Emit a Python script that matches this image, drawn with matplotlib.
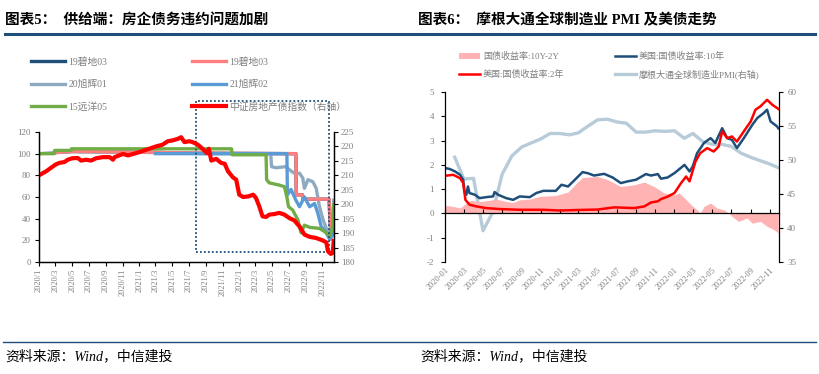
import pandas as pd
import matplotlib
matplotlib.use('Agg')
import matplotlib.pyplot as plt
import matplotlib.dates as mdates
from matplotlib.lines import Line2D
from matplotlib.patches import Rectangle, Patch
from matplotlib.ticker import FuncFormatter, MultipleLocator

plt.rcParams['font.family'] = ['Liberation Serif', 'Noto Sans CJK SC']
plt.rcParams['axes.unicode_minus'] = False

# ---------------- left chart data (图表5) ----------------
green_dates = ['2020-01-01', '2020-02-26', '2020-02-27', '2020-04-27', '2020-04-28', '2021-12-04',
               '2021-12-06', '2022-04-09', '2022-04-11', '2022-04-21', '2022-05-27', '2022-06-15',
               '2022-06-24', '2022-06-30', '2022-07-15', '2022-08-03', '2022-08-15', '2022-08-27',
               '2022-09-15', '2022-10-21', '2022-11-09', '2022-11-27', '2022-12-08', '2022-12-12']
green_vals = [100, 100, 103, 103, 104.5, 104.5, 99, 99, 76, 73, 71, 69.5, 60, 51, 48, 39, 27, 34,
              32, 31, 28, 24, 33, 53]

pink_dates = ['2020-02-27', '2020-05-01', '2021-01-01', '2021-07-01', '2022-07-27', '2022-07-28',
              '2022-08-20', '2022-08-22', '2022-11-25', '2022-11-28', '2022-12-03', '2022-12-12']
pink_vals = [101, 102, 101.5, 100.5, 100, 62, 62, 58, 58, 40, 22, 35]

gray_dates = ['2020-01-01', '2020-05-01', '2020-10-01', '2021-03-01', '2021-09-01', '2022-04-26',
              '2022-04-29', '2022-05-15', '2022-06-20', '2022-07-09', '2022-07-27', '2022-08-09',
              '2022-08-21', '2022-08-27', '2022-09-09', '2022-09-27', '2022-10-09', '2022-10-21',
              '2022-11-03', '2022-11-21', '2022-12-03', '2022-12-12']
gray_vals = [100, 102, 101.5, 101, 100, 100, 88, 87, 88, 84, 81, 82, 77.5, 68, 76, 74, 68, 51,
             39, 27, 21, 57]

blue_dates = ['2021-03-01', '2022-06-24', '2022-06-26', '2022-07-09', '2022-07-27', '2022-08-09',
              '2022-08-27', '2022-09-15', '2022-10-03', '2022-10-15', '2022-10-27', '2022-11-15',
              '2022-11-27', '2022-12-08', '2022-12-12']
blue_vals = [100, 100, 62, 67, 57, 51, 60, 51, 54, 45, 33, 27, 21, 25, 36]

index_dates = ['2020-01-01', '2020-01-27', '2020-03-01', '2020-03-15', '2020-04-03', '2020-04-15',
               '2020-05-01', '2020-05-21', '2020-06-03', '2020-06-21', '2020-07-09', '2020-07-27',
               '2020-08-21', '2020-09-15', '2020-09-27', '2020-10-03', '2020-11-03', '2020-11-21',
               '2020-12-21', '2021-01-03', '2021-02-03', '2021-03-03', '2021-03-27', '2021-04-15',
               '2021-05-03', '2021-05-21', '2021-06-03', '2021-06-15', '2021-07-03', '2021-07-15',
               '2021-08-03', '2021-08-21', '2021-09-05', '2021-09-12', '2021-09-21', '2021-10-09',
               '2021-10-27', '2021-11-09', '2021-11-21', '2021-12-09', '2021-12-21', '2022-01-01',
               '2022-01-15', '2022-02-03', '2022-02-21', '2022-03-03', '2022-03-15', '2022-03-27',
               '2022-04-09', '2022-04-21', '2022-05-09', '2022-05-27', '2022-06-15', '2022-07-03',
               '2022-07-21', '2022-08-09', '2022-08-27', '2022-09-15', '2022-10-09', '2022-11-01',
               '2022-11-15', '2022-11-21', '2022-12-01', '2022-12-08', '2022-12-12']
index_vals = [210.0, 211.4, 213.7, 214.3, 214.6, 215.4, 215.9, 216.0, 215.1, 215.4, 215.1, 215.9,
              216.3, 216.3, 215.4, 216.3, 217.4, 216.9, 217.7, 218.1, 219.1, 220.0, 220.6, 221.8,
              222.1, 222.6, 223.2, 221.5, 221.8, 221.5, 220.6, 219.1, 217.7, 219.2, 215.1, 215.7,
              214.3, 214.0, 211.4, 209.3, 208.5, 203.3, 202.5, 202.7, 203.3, 202.2, 199.3, 195.8,
              195.6, 196.4, 196.6, 197.0, 196.4, 195.2, 194.4, 192.3, 189.5, 188.7, 188.3, 187.5,
              186.8, 183.7, 182.8, 183.1, 187.2]

left_labels = ['19碧地03', '19碧地03', '20旭辉01', '21旭辉02', '15远洋05', '中证房地产债指数（右轴）']

# ---------------- right chart data (图表6) ----------------
y10_dates = ['2020-01-01', '2020-01-16', '2020-02-02', '2020-02-18', '2020-02-28', '2020-03-03',
             '2020-03-09', '2020-03-14', '2020-03-19', '2020-04-05', '2020-04-20', '2020-05-11',
             '2020-06-02', '2020-06-07', '2020-06-18', '2020-07-14', '2020-08-05', '2020-08-26',
             '2020-09-27', '2020-10-18', '2020-11-09', '2020-12-19', '2021-01-06', '2021-01-27',
             '2021-02-18', '2021-03-14', '2021-03-30', '2021-04-20', '2021-05-22', '2021-06-18',
             '2021-07-14', '2021-08-05', '2021-09-01', '2021-10-02', '2021-10-18', '2021-11-09',
             '2021-11-19', '2021-12-10', '2022-01-01', '2022-02-02', '2022-02-18', '2022-02-28',
             '2022-03-14', '2022-04-05', '2022-04-26', '2022-05-11', '2022-06-02', '2022-06-18',
             '2022-07-03', '2022-07-19', '2022-08-10', '2022-09-06', '2022-09-22', '2022-10-12',
             '2022-10-23', '2022-11-03', '2022-11-24', '2022-11-28']
y10_vals = [1.87, 1.83, 1.73, 1.59, 1.39, 0.90, 0.77, 1.11, 0.84, 0.77, 0.63, 0.67, 0.70, 0.88,
            0.77, 0.63, 0.56, 0.70, 0.67, 0.84, 0.93, 0.93, 1.18, 1.11, 1.39, 1.70, 1.66, 1.56,
            1.63, 1.48, 1.25, 1.32, 1.39, 1.62, 1.56, 1.62, 1.43, 1.48, 1.66, 2.00, 1.73, 1.93,
            2.48, 2.90, 3.10, 2.90, 3.51, 3.10, 3.03, 2.69, 3.10, 3.65, 3.93, 4.13, 4.27, 3.79,
            3.58, 3.50]

y2_dates = ['2020-01-01', '2020-01-27', '2020-02-18', '2020-02-28', '2020-03-06', '2020-03-19',
            '2020-04-10', '2020-05-11', '2020-06-23', '2020-08-26', '2020-11-09', '2021-01-01',
            '2021-02-23', '2021-05-01', '2021-06-23', '2021-08-26', '2021-09-27', '2021-10-18',
            '2021-11-09', '2021-11-19', '2021-12-10', '2022-01-01', '2022-01-22', '2022-02-07',
            '2022-02-18', '2022-03-09', '2022-03-24', '2022-04-15', '2022-05-06', '2022-05-22',
            '2022-06-02', '2022-06-18', '2022-07-03', '2022-07-19', '2022-08-10', '2022-09-01',
            '2022-09-16', '2022-10-02', '2022-10-23', '2022-11-09', '2022-11-24', '2022-11-28']
y2_vals = [1.55, 1.59, 1.45, 1.25, 0.56, 0.36, 0.29, 0.22, 0.18, 0.15, 0.15, 0.12, 0.14, 0.16,
           0.25, 0.22, 0.29, 0.45, 0.50, 0.59, 0.69, 0.84, 1.25, 1.52, 1.32, 2.14, 2.48, 2.69,
           2.55, 2.76, 3.38, 3.10, 3.17, 2.96, 3.38, 3.79, 4.27, 4.41, 4.68, 4.47, 4.34, 4.30]

spread_dates = ['2020-01-01', '2020-01-27', '2020-02-18', '2020-02-28', '2020-03-09', '2020-03-24',
                '2020-04-20', '2020-05-22', '2020-06-12', '2020-07-14', '2020-08-05', '2020-08-26',
                '2020-09-27', '2020-10-28', '2020-12-19', '2021-01-27', '2021-02-18', '2021-03-14',
                '2021-05-01', '2021-06-02', '2021-07-14', '2021-08-26', '2021-09-27', '2021-10-28',
                '2021-11-30', '2022-01-01', '2022-01-16', '2022-02-02', '2022-02-23', '2022-03-14',
                '2022-03-24', '2022-04-05', '2022-04-26', '2022-05-16', '2022-06-07', '2022-06-23',
                '2022-07-03', '2022-07-24', '2022-08-20', '2022-09-06', '2022-10-02', '2022-10-23',
                '2022-11-14', '2022-11-28']
spread_vals = [0.33, 0.29, 0.22, 0.32, 0.43, 0.54, 0.49, 0.54, 0.59, 0.49, 0.45, 0.56, 0.59, 0.70,
               0.74, 0.88, 1.18, 1.48, 1.52, 1.39, 1.11, 1.18, 1.29, 1.11, 0.84, 0.77, 0.84, 0.63,
               0.36, 0.15, 0.01, 0.29, 0.43, 0.22, 0.15, 0.01, -0.12, -0.33, -0.19, -0.40, -0.33,
               -0.53, -0.67, -0.81]

pmi_months = pd.period_range('2020-01', '2022-11', freq='M')
pmi_vals = [50.4, 47.2, 47.3, 39.6, 42.3, 47.9, 50.6, 51.9, 52.5, 53.1, 53.9, 53.9,
            53.7, 54.0, 55.0, 55.9, 56.0, 55.6, 55.4, 54.1, 54.1, 54.3, 54.2, 54.3,
            53.2, 53.9, 52.7, 52.3, 52.3, 52.0, 51.0, 50.4, 49.9, 49.4, 48.8]

right_labels = ['国债收益率:10Y-2Y', '美国:国债收益率:2年', '美国:国债收益率:10年', '摩根大通全球制造业PMI(右轴)']

# ---------------- figure ----------------
W, H = 819, 374
fig = plt.figure(figsize=(W / 100, H / 100), dpi=100)


def box(l, t, r, b):
    return [l / W, 1 - b / H, (r - l) / W, (b - t) / H]


navy = '#1f4e79'
tick_gray = '#808080'
D = pd.to_datetime

# left chart
ax1 = fig.add_axes(box(39, 132, 334, 262))
ax1r = ax1.twinx()
h_navy, = ax1.plot(D(pink_dates), pink_vals, color=navy, lw=2.4)
h_gray, = ax1.plot(D(gray_dates), gray_vals, color='#8eaac1', lw=2.4)
h_pink, = ax1.plot(D(pink_dates), pink_vals, color='#ff7f7f', lw=2.4)
h_blue, = ax1.plot(D(blue_dates), blue_vals, color='#5b9bd5', lw=2.4)
h_green, = ax1.plot(D(green_dates), green_vals, color='#70ad47', lw=2.4)
h_red, = ax1r.plot(D(index_dates), index_vals, color='#ff0000', lw=3.0)

ax1.set_ylim(0, 120)
ax1.yaxis.set_major_locator(MultipleLocator(20))
ax1r.set_ylim(180, 225)
ax1r.yaxis.set_major_locator(MultipleLocator(5))
ax1.set_xlim(D('2020-01-01'), D('2022-12-13'))
ax1.xaxis.set_major_locator(mdates.MonthLocator(bymonth=[1, 3, 5, 7, 9, 11]))
ax1.xaxis.set_major_formatter(FuncFormatter(
    lambda x, p: f"{mdates.num2date(x).year}/{mdates.num2date(x).month}"))
for a in (ax1, ax1r):
    a.spines['top'].set_visible(False)
    for s in a.spines.values():
        s.set_linewidth(0.9)
ax1.tick_params(axis='y', direction='out', length=3, pad=3, labelsize=6.5, labelcolor=tick_gray)
ax1r.tick_params(axis='y', direction='out', length=3, pad=2, labelsize=6.5, labelcolor=tick_gray)
ax1.tick_params(axis='x', direction='out', length=3, pad=2, labelsize=6, labelcolor=tick_gray,
                labelrotation=90)

x0 = mdates.date2num(D('2021-07-27'))
x1 = mdates.date2num(D('2022-11-25'))
ax1.add_patch(Rectangle((x0, 8.9), x1 - x0, 148.6 - 8.9, fill=False, ls=(0, (1, 1.2)), lw=1.3,
                        ec=navy, clip_on=False, zorder=5))

fig.legend([h_navy, h_gray, h_green, h_pink, h_blue, h_red],
           [left_labels[0], left_labels[2], left_labels[4], left_labels[1], left_labels[3], left_labels[5]],
           ncol=2, loc='upper left', bbox_to_anchor=(31 / W, 1 - 57 / H), frameon=False,
           fontsize=7, handlelength=3.5, handletextpad=0.35, columnspacing=8.7,
           labelspacing=1.35, borderpad=0, borderaxespad=0, labelcolor='#7f7f7f')

# right chart
ax2 = fig.add_axes(box(445, 92, 779, 262))
ax2r = ax2.twinx()
ax2.set_zorder(ax2r.get_zorder() + 1)
ax2.patch.set_visible(False)

ax2.fill_between(D(spread_dates), 0, spread_vals, color='#ffb3b3', lw=0)
h_10, = ax2.plot(D(y10_dates), y10_vals, color=navy, lw=1.8)
h_2, = ax2.plot(D(y2_dates), y2_vals, color='#ff0000', lw=1.8)
h_pmi, = ax2r.plot(pmi_months.to_timestamp(how='end'), pmi_vals, color='#b7cbd8', lw=2.4)

ax2.set_ylim(-2, 5)
ax2.yaxis.set_major_locator(MultipleLocator(1))
ax2r.set_ylim(35, 60)
ax2r.yaxis.set_major_locator(MultipleLocator(5))
ax2.set_xlim(D('2020-01-01'), D('2022-11-30'))
ax2.xaxis.set_major_locator(mdates.MonthLocator(bymonth=[1, 3, 5, 7, 9, 11]))
ax2.xaxis.set_major_formatter(mdates.DateFormatter('%Y-%m'))
ax2.spines['bottom'].set_position(('data', 0))
for a in (ax2, ax2r):
    a.spines['top'].set_visible(False)
    for s in a.spines.values():
        s.set_linewidth(0.9)
ax2.spines['right'].set_visible(False)
ax2r.spines['left'].set_visible(False)
ax2r.spines['bottom'].set_visible(False)
ax2.tick_params(axis='y', direction='out', length=3, pad=5, labelsize=6.5, labelcolor=tick_gray)
ax2r.tick_params(axis='y', direction='out', length=3, pad=3, labelsize=6.5, labelcolor=tick_gray)
ax2.tick_params(axis='x', direction='in', length=3, pad=38, labelsize=6, labelcolor=tick_gray)
for lb in ax2.get_xticklabels():
    lb.set_rotation(45)
    lb.set_ha('right')
    lb.set_rotation_mode('anchor')

spread_patch = Patch(facecolor='#ffb3b3', edgecolor='none')
fig.legend([spread_patch, h_2, h_10, h_pmi], right_labels,
           ncol=2, loc='upper left', bbox_to_anchor=(459 / W, 1 - 52 / H), frameon=False,
           fontsize=6.5, handlelength=2.3, handletextpad=0.35, columnspacing=5.6,
           labelspacing=0.95, borderpad=0, borderaxespad=0, labelcolor='#7f7f7f')

# titles, rules and sources
fig.text(5 / W, 1 - 20 / H, '图表5：  供给端：房企债务违约问题加剧', fontsize=10.5,
         fontweight='bold', va='center')
fig.text(418 / W, 1 - 20 / H, '图表6：  摩根大通全球制造业 PMI 及美债走势', fontsize=10.5,
         fontweight='bold', va='center')
fig.add_artist(Line2D([5 / W, 815 / W], [1 - 34 / H, 1 - 34 / H], color=navy, lw=2.2))
fig.add_artist(Line2D([3 / W, 816 / W], [1 - 342 / H, 1 - 342 / H], color=navy, lw=1.0))
fig.text(5 / W, 1 - 356 / H, '资料来源：Wind，中信建投', fontsize=10, style='italic', va='center')
fig.text(420 / W, 1 - 356 / H, '资料来源：Wind，中信建投', fontsize=10, style='italic', va='center')

fig.savefig('out.png', dpi=100)
